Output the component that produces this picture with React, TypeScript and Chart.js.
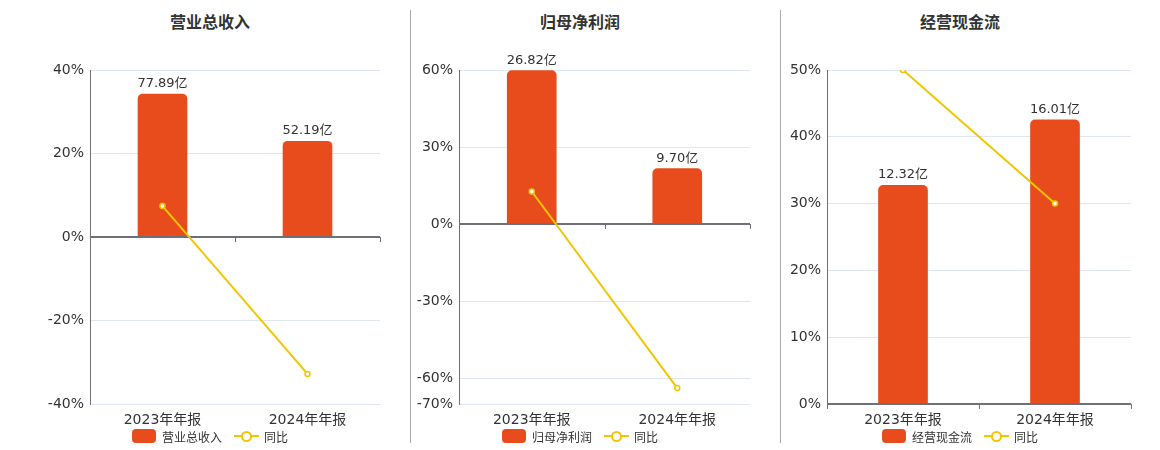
import { useEffect, useRef } from 'react';
import Chart from 'chart.js/auto';

const FONT = '"DejaVu Sans", "Noto Sans CJK SC", sans-serif';
Chart.defaults.font.family = FONT;

const categories = ['2023年年报', '2024年年报'];
const yoyLabel = '同比';

const revenueTitle = '营业总收入';
const revenueValues = [77.89, 52.19];
const revenueYoY = [7.4, -32.8];
const revenueTicks = [-40, -20, 0, 20, 40];

const profitTitle = '归母净利润';
const profitValues = [26.82, 9.7];
const profitYoY = [12.7, -63.8];
const profitTicks = [-70, -60, -30, 0, 30, 60];

const cashTitle = '经营现金流';
const cashValues = [12.32, 16.01];
const cashYoY = [50.0, 30.0];
const cashTicks = [0, 10, 20, 30, 40, 50];

const BAR = '#E84C1D';
const LINE = '#F2C500';
const AXIS = '#6E7079';
const GRID = '#E0E6F1';
const TEXT = '#333';

const CANVAS_TOP = 40;
const PLOT_TOP = 70;
const PLOT_BOTTOM = 404;
const Y_AXIS_W = 50;
const X_AXIS_H = 28;
const PAD_RIGHT = 10;

// zero line + category boundary ticks, drawn over bars but under the line
const zeroLinePlugin = {
  id: 'zeroLine',
  beforeDatasetDraw(chart: any, args: any) {
    if (args.index !== 1) return;
    const { ctx, chartArea } = chart;
    const y0 = Math.round(chart.scales.y.getPixelForValue(0));
    ctx.save();
    ctx.strokeStyle = AXIS;
    ctx.lineWidth = 2;
    ctx.beginPath();
    ctx.moveTo(chartArea.left, y0);
    ctx.lineTo(chartArea.right, y0);
    ctx.stroke();
    ctx.lineWidth = 1;
    const n = chart.data.labels.length;
    const w = (chartArea.right - chartArea.left) / n;
    for (let i = 0; i <= n; i++) {
      const x = Math.round(chartArea.left + i * w) + 0.5;
      ctx.beginPath();
      ctx.moveTo(x, y0);
      ctx.lineTo(x, y0 + 5);
      ctx.stroke();
    }
    ctx.restore();
  },
};

const barLabelPlugin = {
  id: 'barLabel',
  afterDatasetsDraw(chart: any) {
    const { ctx } = chart;
    const meta = chart.getDatasetMeta(0);
    const data = chart.data.datasets[0].data as number[];
    ctx.save();
    ctx.font = `13px ${FONT}`;
    ctx.fillStyle = TEXT;
    ctx.textAlign = 'center';
    ctx.textBaseline = 'bottom';
    meta.data.forEach((el: any, i: number) => {
      ctx.fillText(`${data[i].toFixed(2)}亿`, el.x, el.y - 4);
    });
    ctx.restore();
  },
};

interface PanelProps {
  title: string;
  values: number[];
  yoy: number[];
  ticks: number[];
  barMax: number;
  plotLeft: number;
  plotRight: number;
  center: number;
}

const ComboPanel: React.FC<PanelProps> = ({
  title,
  values,
  yoy,
  ticks,
  barMax,
  plotLeft,
  plotRight,
  center,
}) => {
  const chartRef = useRef<HTMLCanvasElement>(null);
  const tMin = Math.min(...ticks);
  const tMax = Math.max(...ticks);

  useEffect(() => {
    if (!chartRef.current) return;
    const chart = new Chart(chartRef.current, {
      data: {
        labels: categories,
        datasets: [
          {
            type: 'bar',
            label: title,
            data: values,
            yAxisID: 'yBar',
            backgroundColor: BAR,
            borderRadius: { topLeft: 5, topRight: 5, bottomLeft: 0, bottomRight: 0 },
            borderSkipped: false,
            barThickness: 49,
            order: 2,
          },
          {
            type: 'line',
            label: yoyLabel,
            data: yoy,
            yAxisID: 'y',
            borderColor: LINE,
            borderWidth: 2,
            pointRadius: 2.5,
            pointBorderWidth: 1.5,
            pointBackgroundColor: '#fff',
            pointBorderColor: LINE,
            order: 1,
          },
        ],
      } as any,
      options: {
        animation: false,
        responsive: true,
        maintainAspectRatio: false,
        layout: { padding: { top: PLOT_TOP - CANVAS_TOP, right: PAD_RIGHT, left: 0, bottom: 0 } },
        plugins: { legend: { display: false }, tooltip: { enabled: false } },
        scales: {
          x: {
            grid: { display: false, drawTicks: false },
            border: { display: false },
            ticks: { color: TEXT, font: { size: 14 }, padding: 8 },
            afterFit: (s: any) => {
              s.height = X_AXIS_H;
            },
          },
          y: {
            position: 'left',
            min: tMin,
            max: tMax,
            afterBuildTicks: (ax: any) => {
              ax.ticks = ticks.map((v) => ({ value: v }));
            },
            grid: {
              color: (c: any) => (c.tick && c.tick.value === 0 ? 'rgba(0,0,0,0)' : GRID),
              drawTicks: false,
            },
            border: { color: AXIS, width: 1 },
            ticks: {
              color: TEXT,
              font: { size: 14 },
              padding: 6,
              callback: (v: any) => `${v}%`,
            },
            afterFit: (s: any) => {
              s.width = Y_AXIS_W;
            },
          },
          yBar: {
            display: false,
            min: (barMax * tMin) / tMax,
            max: barMax,
          },
        },
      } as any,
      plugins: [zeroLinePlugin, barLabelPlugin],
    });
    return () => chart.destroy();
  }, [title, values, yoy, ticks, barMax]);

  const canvasLeft = plotLeft - Y_AXIS_W;
  const canvasWidth = plotRight - plotLeft + Y_AXIS_W + PAD_RIGHT;
  const canvasHeight = PLOT_BOTTOM - CANVAS_TOP + X_AXIS_H;

  return (
    <>
      <div
        style={{
          position: 'absolute',
          left: center - 100,
          width: 200,
          top: 13,
          lineHeight: '20px',
          textAlign: 'center',
          fontFamily: FONT,
          fontWeight: 'bold',
          fontSize: 16,
          color: TEXT,
        }}
      >
        {title}
      </div>
      <div
        style={{
          position: 'absolute',
          left: canvasLeft,
          top: CANVAS_TOP,
          width: canvasWidth,
          height: canvasHeight,
        }}
      >
        <canvas ref={chartRef} />
      </div>
      <div
        style={{
          position: 'absolute',
          left: center - 120,
          width: 240,
          top: 428,
          height: 16,
          display: 'flex',
          justifyContent: 'center',
          alignItems: 'center',
          fontFamily: FONT,
          fontSize: 12,
          color: TEXT,
        }}
      >
        <span style={{ width: 24, height: 14, borderRadius: 4, background: BAR, marginRight: 6 }} />
        <span style={{ marginRight: 12 }}>{title}</span>
        <span style={{ position: 'relative', width: 25, height: 14, marginRight: 5 }}>
          <span
            style={{ position: 'absolute', left: 0, right: 0, top: 6, height: 2, background: LINE }}
          />
          <span
            style={{
              position: 'absolute',
              left: 7,
              top: 2,
              width: 7,
              height: 7,
              borderRadius: '50%',
              border: `2px solid ${LINE}`,
              background: '#fff',
            }}
          />
        </span>
        <span>{yoyLabel}</span>
      </div>
    </>
  );
};

export default function App() {
  return (
    <div
      style={{
        position: 'absolute',
        left: 0,
        top: 0,
        width: 1160,
        height: 450,
        background: '#fff',
      }}
    >
      <div style={{ position: 'absolute', left: 410, top: 10, width: 1, height: 433, background: '#AAA' }} />
      <div style={{ position: 'absolute', left: 780, top: 10, width: 1, height: 433, background: '#AAA' }} />
      <ComboPanel
        title={revenueTitle}
        values={revenueValues}
        yoy={revenueYoY}
        ticks={revenueTicks}
        barMax={91}
        plotLeft={90}
        plotRight={380}
        center={210}
      />
      <ComboPanel
        title={profitTitle}
        values={profitValues}
        yoy={profitYoY}
        ticks={profitTicks}
        barMax={26.94}
        plotLeft={459}
        plotRight={750}
        center={580}
      />
      <ComboPanel
        title={cashTitle}
        values={cashValues}
        yoy={cashYoY}
        ticks={cashTicks}
        barMax={18.82}
        plotLeft={827}
        plotRight={1131}
        center={960}
      />
    </div>
  );
}
